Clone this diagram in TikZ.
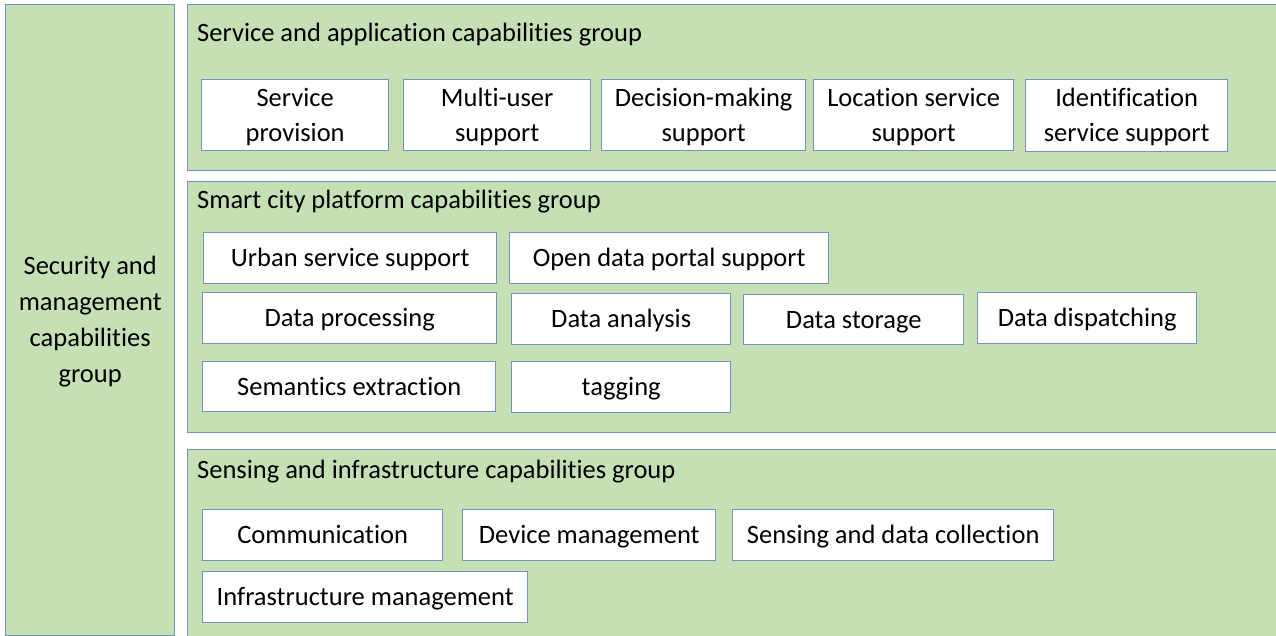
\documentclass[tikz,border=0pt]{standalone}
\usepackage{fontspec}
\setmainfont{Carlito}[Ligatures=NoCommon]
\definecolor{grpfill}{HTML}{C5E0B4}
\definecolor{edgecol}{HTML}{7393BC}
\newcommand{\topstrut}{\rule{0pt}{23.8pt}}
\begin{document}
\begin{tikzpicture}[x=1pt,y=-1pt,
  struts/.style={execute at begin node={\topstrut}, execute at end node={\rule[-6.8pt]{0pt}{6.8pt}}},
  grpbox/.style={draw=edgecol, fill=grpfill, line width=1.4pt, anchor=north west, inner sep=0pt},
  capbox/.style={draw=edgecol, fill=white, line width=1.4pt, anchor=north west, inner sep=0pt, align=center,
     font=\fontsize{26.5}{35}\selectfont, struts},
  ttlbox/.style={anchor=base west, inner sep=0pt, font=\fontsize{26.5}{32}\selectfont}]
\useasboundingbox (0,0) rectangle (1276,636);
% left group
\node[grpbox, minimum width=169pt, minimum height=631pt, align=center,
  font=\fontsize{26.5}{36}\selectfont, struts] (sec) at (5,4) {\topstrut Security and\\management\\capabilities\\group};
% groups
\node[grpbox, minimum width=1092pt, minimum height=166pt] (g1) at (187,4) {};
\node[grpbox, minimum width=1092pt, minimum height=251pt] (g2) at (187,181) {};
\node[grpbox, minimum width=1092pt, minimum height=187pt] (g3) at (187,449) {};
\node[ttlbox] (t1) at (197,42) {Service and application capabilities group};
\node[ttlbox] (t2) at (197,208.5) {Smart city platform capabilities group};
\node[ttlbox] (t3) at (197,478.5) {Sensing and infrastructure capabilities group};
% row 1
\node[capbox, minimum width=187pt, minimum height=71pt] (sp) at (201,79) {\topstrut Service\\provision};
\node[capbox, minimum width=187pt, minimum height=71pt] (mu) at (403,79) {\topstrut Multi-user\\support};
\node[capbox, minimum width=204pt, minimum height=71pt] (dm) at (601,79) {\topstrut Decision-making\\support};
\node[capbox, minimum width=200pt, minimum height=71pt] (ls) at (813,79) {\topstrut Location service\\support};
\node[capbox, minimum width=202pt, minimum height=72pt] (is) at (1025,79) {\topstrut Identification\\service support};
% row 2
\node[capbox, minimum width=293pt, minimum height=51pt] (us) at (203,232) {Urban service support};
\node[capbox, minimum width=319pt, minimum height=51pt] (od) at (509,232) {Open data portal support};
\node[capbox, minimum width=294pt, minimum height=51pt] (dp) at (202,292) {Data processing};
\node[capbox, minimum width=219pt, minimum height=51pt] (da) at (511,293) {Data analysis};
\node[capbox, minimum width=220pt, minimum height=50pt] (ds) at (743,294) {Data storage};
\node[capbox, minimum width=219pt, minimum height=51pt] (dd) at (977,292) {Data dispatching};
\node[capbox, minimum width=293pt, minimum height=50pt] (se) at (202,361) {Semantics extraction};
\node[capbox, minimum width=219pt, minimum height=51pt] (tg) at (511,361) {tagging};
% row 3
\node[capbox, minimum width=240pt, minimum height=51pt] (cm) at (202,509) {Communication};
\node[capbox, minimum width=253pt, minimum height=51pt] (dv) at (462,509) {Device management};
\node[capbox, minimum width=321pt, minimum height=51pt] (sd) at (732,509) {Sensing and data collection};
\node[capbox, minimum width=325pt, minimum height=51pt] (im) at (202,571) {Infrastructure management};
\end{tikzpicture}
\end{document}
